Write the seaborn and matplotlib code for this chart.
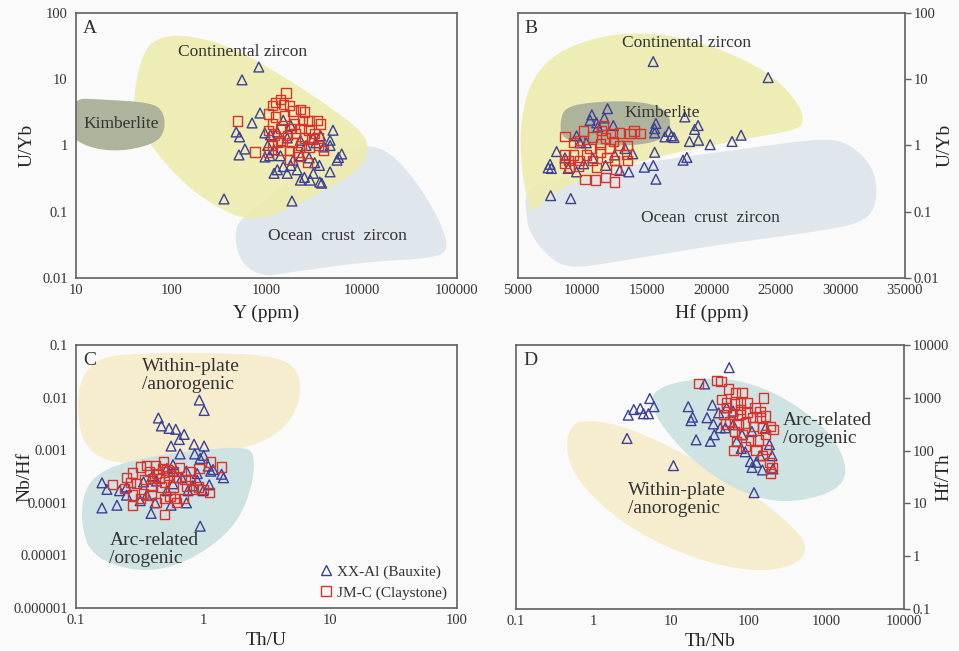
import numpy as np
import pandas as pd
import matplotlib
matplotlib.use("Agg")
import matplotlib.pyplot as plt
from matplotlib.lines import Line2D
import seaborn as sns

# ---- Panel A: Y (ppm) vs U/Yb ----
a_xx_y = [830, 553, 358, 1850, 480, 520, 514, 594, 705, 855, 965, 4990, 6160, 5500, 5700, 4650,
          4650, 3630, 4650, 3100, 2880, 2270, 2100, 1650, 1300, 1500, 1200, 1800, 1900, 1400, 1200,
          2300, 2800, 3200, 3600, 4000, 3300, 2600, 2270, 1650, 1300, 1100, 960, 1500, 1800, 3100,
          3700, 1030, 1080, 3800, 2500]
a_xx_uyb = [15.3, 9.8, 0.156, 0.145, 1.6, 1.35, 0.72, 0.885, 2.19, 3.09, 0.67, 1.7, 0.745, 0.6, 0.66, 1.2,
            1.0, 0.28, 0.4, 0.38, 0.3, 0.3, 0.43, 0.38, 0.43, 0.48, 0.38, 0.5, 0.6, 0.7, 0.86,
            0.7, 0.65, 0.55, 0.5, 0.95, 1.1, 1.0, 1.2, 1.3, 1.6, 1.45, 1.55, 2.4, 2.0, 1.3,
            1.4, 1.0, 0.7, 0.27, 0.33]
a_jm_y = [1600, 500, 760, 1050, 1400, 1250, 1150, 1500, 1750, 2270, 2500, 1900, 1050, 1250, 1550,
          2400, 2800, 3400, 3700, 1950, 1150, 1050, 1400, 1800, 2300, 2800, 3200, 1200, 1650, 2000,
          2500, 3000, 1400, 1850, 2300, 2800, 1750, 2100, 3500, 4000, 1300, 2700, 1750, 2150, 1150,
          1400, 3500]
a_jm_uyb = [6.2, 2.35, 0.8, 0.8, 5.0, 4.5, 4.0, 4.2, 4.0, 3.5, 3.2, 3.3, 3.0, 2.7, 2.8,
            2.4, 2.4, 2.4, 2.1, 2.1, 2.1, 1.7, 1.8, 1.8, 1.8, 1.7, 1.5, 1.4, 1.4, 1.5,
            1.3, 1.25, 1.2, 1.1, 1.0, 0.95, 0.85, 0.8, 1.0, 0.85, 1.1, 0.55, 0.62, 0.68, 1.0,
            0.85, 1.3]

# ---- Panel B: Hf (ppm) vs U/Yb ----
b_xx_hf = [15490, 24400, 11950, 10735, 15700, 15600, 15600, 17940, 18970, 18700, 16700, 16900, 16400,
           17100, 18300, 19000, 19900, 21600, 22300, 18100, 17800, 15600, 15500, 14800, 15700, 13600,
           13900, 8000, 7500, 7350, 7600, 7540, 9100, 9550, 9800, 8650, 8900, 11100, 11200, 12400,
           10600, 11700, 10300, 10800, 11800, 12500, 13300, 12900, 10100, 9550]
b_xx_uyb = [18.5, 10.6, 3.6, 2.9, 2.15, 1.8, 1.55, 2.7, 2.0, 1.75, 1.63, 1.4, 1.35,
            1.32, 1.15, 1.2, 1.03, 1.15, 1.43, 0.66, 0.6, 0.79, 0.5, 0.47, 0.31, 0.4,
            0.75, 0.81, 0.52, 0.46, 0.45, 0.175, 0.158, 1.4, 1.1, 0.65, 0.45, 2.2, 1.9, 2.0,
            2.4, 2.6, 1.1, 0.65, 0.5, 0.72, 0.9, 0.42, 0.53, 0.4]
b_jm_hf = [8650, 9300, 10100, 10800, 11600, 11500, 12300, 12900, 13700, 14500, 14000, 8650, 8650,
           9000, 9800, 9700, 10300, 10200, 11000, 11800, 12500, 11100, 10600, 11400, 12100, 12900,
           13500, 13400, 13500, 12500, 11900, 11400, 9800, 9300, 12400, 11800, 10800, 12600, 8900]
b_jm_uyb = [1.37, 1.1, 1.65, 1.35, 2.0, 1.7, 1.5, 1.55, 1.5, 1.52, 1.65, 0.72, 0.54,
            0.46, 0.6, 0.48, 0.72, 0.31, 0.3, 0.33, 0.28, 0.47, 0.9, 0.8, 0.9, 1.0,
            1.0, 0.73, 0.6, 0.6, 0.66, 1.05, 1.2, 0.72, 1.15, 1.3, 0.6, 0.43, 0.6]

# ---- Panel C: Th/U vs Nb/Hf ----
c_xx_thu = [0.935, 1.02, 0.445, 0.47, 0.54, 0.61, 0.71, 0.65, 0.56, 0.85, 1.02, 0.86, 1.01, 0.66,
            0.95, 0.39, 0.95, 0.16, 0.175, 0.16, 0.21, 0.22, 0.25, 0.25, 1.2, 1.15, 1.1, 1.4,
            1.45, 1.12, 1.0, 0.74, 0.56, 0.42, 0.32, 0.36, 0.52, 0.58, 0.43, 0.68, 0.83, 0.76,
            0.9, 0.58, 0.4, 0.34, 0.74, 0.9, 0.52, 0.58]
c_xx_nbhf = [0.009, 0.0057, 0.0041, 0.0029, 0.0026, 0.0025, 0.0020, 0.0016, 0.0012, 0.0013, 0.0012,
             0.00085, 0.0008, 0.00085, 0.0007, 6.3e-5, 3.6e-5, 0.00024, 0.00018, 8e-5, 9e-5, 0.00017,
             0.0002, 0.00014, 0.00043, 0.0004, 0.0005, 0.00035, 0.0003, 0.00022, 0.00017, 0.0001,
             9e-5, 0.0001, 0.00011, 0.00014, 0.00017, 0.00023, 0.00026, 0.0003, 0.00021, 0.00017,
             0.00027, 0.0004, 0.00033, 0.00025, 0.0004, 0.00036, 0.00045, 0.00053]
c_jm_thu = [0.193, 0.5, 1.4, 1.15, 1.12, 1.0, 0.92, 0.93, 0.8, 0.65, 0.49, 0.42, 0.36, 0.32, 0.28,
            0.25, 0.24, 0.28, 0.32, 0.28, 0.34, 0.39, 0.43, 0.5, 0.55, 0.6, 0.7, 0.62, 0.58, 0.5,
            0.45, 0.4, 0.35, 0.3, 0.39, 0.47, 0.54, 0.62, 0.72, 0.8, 0.74, 0.83, 0.43, 0.38, 0.52,
            0.58, 0.48, 0.27]
c_jm_nbhf = [0.00022, 6e-5, 0.00048, 0.0006, 0.000155, 0.00018, 0.0002, 0.00045, 0.0004, 0.00047,
             0.0006, 0.00052, 0.00052, 0.00048, 0.00037, 0.0003, 0.00019, 9e-5, 0.00012, 0.00014,
             0.00015, 0.00014, 0.0001, 0.00012, 0.00013, 0.00012, 0.00012, 0.0001, 0.0002, 0.00025,
             0.00029, 0.00029, 0.00028, 0.00023, 0.00021, 0.0002, 0.00033, 0.0003, 0.00028, 0.00028,
             0.00021, 0.00018, 0.00036, 0.0004, 0.00042, 0.0004, 0.00045, 0.00024]

# ---- Panel D: Th/Nb vs Hf/Th ----
d_xx_thnb = [56, 27, 5.3, 6.0, 4.0, 3.3, 2.8, 4.4, 5.1, 2.7, 10.7, 117, 16.6, 18.9, 18, 21, 34, 29,
             35, 32, 36, 43, 41, 52, 50, 63, 80, 90, 105, 110, 125, 150, 200, 205, 185, 165, 140,
             70, 82, 110, 63]
d_xx_hfth = [3730, 1830, 970, 680, 630, 600, 470, 500, 500, 170, 52, 16, 680, 430, 370, 160, 730,
             420, 320, 150, 200, 270, 520, 650, 270, 310, 110, 95, 62, 48, 60, 43, 80, 45, 130, 270,
             80, 150, 200, 230, 560]
d_jm_thnb = [22.5, 39, 44, 55, 67, 82, 155, 45, 52, 65, 78, 95, 120, 62, 77, 95, 140, 56, 73, 90,
             115, 150, 165, 65, 82, 105, 132, 205, 190, 90, 124, 150, 185, 200, 190, 70, 50, 63,
             170, 52, 78, 48, 165, 112, 140]
d_jm_hfth = [1890, 2130, 2050, 1470, 1270, 1270, 990, 940, 820, 760, 820, 820, 650, 480, 480, 520,
             420, 360, 310, 335, 290, 270, 200, 230, 200, 160, 160, 250, 290, 120, 100, 80, 60, 48,
             37, 150, 320, 100, 105, 650, 600, 480, 450, 420, 550]

# ---- field boundaries (vertices) ----
a_cont = ([10**v for v in [1.602, 1.707, 1.882, 2.162, 2.652, 3.352, 3.911, 4.087, 4.016, 3.632, 3.142,
                           2.861, 2.582, 2.162, 1.812, 1.637]],
          [10**v for v in [0.788, 1.44, 1.642, 1.668, 1.491, 0.888, 0.335, 0.033, -0.32, -0.672, -1.023,
                           -1.125, -1.023, -0.622, -0.068, 0.385]])
a_kimb = ([10**v for v in [0.95, 1.252, 1.812, 1.924, 1.934, 1.847, 1.532, 1.252, 1.042, 0.95]],
          [10**v for v in [0.712, 0.697, 0.646, 0.486, 0.234, 0.042, -0.078, -0.068, 0.033, 0.158]])
a_ocean = ([10**v for v in [2.652, 2.792, 3.352, 3.877, 4.227, 4.541, 4.822, 4.92, 4.751, 4.052, 3.176,
                            2.966, 2.722]],
           [10**v for v in [-1.275, -1.023, -0.42, -0.013, -0.013, -0.471, -1.125, -1.577, -1.703, -1.754,
                            -1.929, -1.98, -1.779]])
b_cont = ([5930, 5285, 5155, 5930, 8000, 11870, 16260, 20655, 24790, 26855, 27165, 26600, 22720, 14970,
           8510, 6450],
          [10**v for v in [-1.005, -0.399, 0.308, 0.965, 1.42, 1.682, 1.697, 1.47, 1.065, 0.611, 0.359,
                           0.232, 0.106, -0.197, -0.601, -0.955]])
b_kimb = ([8255, 8640, 11355, 14455, 16390, 16935, 16390, 14455, 10580, 8410],
          [10**v for v in [0.333, 0.591, 0.667, 0.667, 0.561, 0.333, 0.106, 0.0, 0.0, 0.106]])
b_ocean = ([5672, 5542, 7222, 14970, 22720, 28405, 30472, 32537, 32925, 32022, 27888, 20138, 12388,
            8772, 6963, 5800],
           [10**v for v in [-1.056, -0.702, -0.525, -0.247, -0.045, 0.106, 0.056, -0.298, -0.803, -1.157,
                            -1.308, -1.51, -1.763, -1.864, -1.611, -1.258]])
c_within = ([10**v for v in [-0.969, -0.837, -0.549, -0.024, 0.554, 0.764, 0.764, 0.633, 0.396, -0.024,
                             -0.496, -0.811, -0.955, -0.99]],
            [10**v for v in [-1.665, -1.253, -1.158, -1.146, -1.19, -1.475, -2.108, -2.614, -2.93, -3.089,
                             -3.278, -3.184, -2.804, -2.234]])
c_arc = ([10**v for v in [-0.969, -0.89, -0.496, -0.129, 0.239, 0.383, 0.409, 0.344, -0.024, -0.417,
                          -0.732, -0.916]],
         [10**v for v in [-4.259, -5.019, -5.335, -5.146, -4.513, -3.753, -3.12, -2.93, -2.994, -3.12,
                          -3.31, -3.627]])
d_arc = ([10**v for v in [0.773, 1.116, 1.76, 2.403, 3.004, 3.262, 3.219, 2.833, 2.318, 1.803, 1.288,
                          0.858, 0.751]],
         [10**v for v in [3.135, 3.327, 3.391, 3.071, 2.429, 1.788, 1.34, 1.083, 1.019, 1.276, 1.788,
                          2.494, 2.878]])
d_within = ([10**v for v in [-0.3, -0.043, 0.472, 1.202, 1.974, 2.618, 2.768, 2.575, 2.06, 1.33, 0.472,
                             -0.172, -0.365]],
            [10**v for v in [2.494, 2.59, 2.429, 1.917, 1.276, 0.506, 0.122, -0.199, -0.295, -0.071,
                             0.506, 1.34, 1.981]])

BLUE = '#3b3f96'
RED = '#d8322b'
TXT = '#333333'
SERIF = ['Liberation Serif', 'DejaVu Serif']

sns.set_style('white')
plt.rcParams['font.family'] = SERIF


def smooth(xs, ys, logx, logy, n=4):
    # closed Chaikin smoothing of the field outline, done in axis space
    px = np.log10(xs) if logx else np.asarray(xs, float)
    py = np.log10(ys) if logy else np.asarray(ys, float)
    pts = np.column_stack([px, py])
    for _ in range(n):
        nxt = np.roll(pts, -1, axis=0)
        q = 0.75 * pts + 0.25 * nxt
        r = 0.25 * pts + 0.75 * nxt
        pts = np.empty((2 * len(q), 2))
        pts[0::2] = q
        pts[1::2] = r
    sx = 10 ** pts[:, 0] if logx else pts[:, 0]
    sy = 10 ** pts[:, 1] if logy else pts[:, 1]
    return sx, sy


def field(ax, poly, color, logx=True, logy=True, alpha=1.0):
    sx, sy = smooth(poly[0], poly[1], logx, logy)
    ax.fill(sx, sy, color=color, alpha=alpha, lw=0, zorder=1)


def points(ax, x, y, marker, color, size):
    df = pd.DataFrame({'x': x, 'y': y})
    sns.scatterplot(data=df, x='x', y='y', ax=ax, marker=marker, s=size,
                    facecolors='none', edgecolor=color, linewidth=1.0, zorder=3)


def style(ax, right=False, xlab_y=-0.13, ylab_x=-0.13):
    for sp in ax.spines.values():
        sp.set_color('#606060')
        sp.set_linewidth(1.2)
    ax.set_facecolor('#fafafa')
    ax.tick_params(axis='both', which='major', direction='out', length=4, width=1,
                   color='#606060', labelsize=10.5, labelcolor=TXT, pad=2)
    ax.tick_params(axis='both', which='minor', length=0)
    ax.tick_params(axis='x', length=0, pad=4)
    if right:
        ax.yaxis.tick_right()
        ax.yaxis.set_label_position('right')
    ax.xaxis.label.set_va('center')
    ax.yaxis.label.set_va('center')
    ax.xaxis.set_label_coords(0.5, xlab_y)
    ax.yaxis.set_label_coords(ylab_x, 0.5)


def plain(vals):
    return [('%.6f' % v).rstrip('0').rstrip('.') for v in vals]


def letter(ax, s):
    ax.text(0.018, 0.94, s, transform=ax.transAxes, fontsize=14, color=TXT, va='center')


fig = plt.figure(figsize=(9.59, 6.51), dpi=100)
fig.patch.set_facecolor('#fafafa')

axA = fig.add_axes([0.0793, 0.573, 0.3972, 0.407])
axB = fig.add_axes([0.540, 0.573, 0.4036, 0.407])
axC = fig.add_axes([0.0793, 0.066, 0.3972, 0.404])
axD = fig.add_axes([0.538, 0.0645, 0.4046, 0.4055])

# ---- A ----
axA.set_xscale('log')
axA.set_yscale('log')
field(axA, a_ocean, '#dfe7ec')
field(axA, a_cont, '#eeecb0', alpha=0.92)
field(axA, a_kimb, '#aeb39b')
points(axA, a_xx_y, a_xx_uyb, '^', BLUE, 50)
points(axA, a_jm_y, a_jm_uyb, 's', RED, 45)
axA.set_xlim(10, 100000)
axA.set_ylim(0.01, 100)
xt = [10, 100, 1000, 10000, 100000]
yt = [0.01, 0.1, 1, 10, 100]
axA.set_xticks(xt, plain(xt))
axA.set_yticks(yt, plain(yt))
axA.text(566, 26, 'Continental zircon', ha='center', va='center', fontsize=12.5, color=TXT, zorder=4)
axA.text(30, 2.1, 'Kimberlite', ha='center', va='center', fontsize=12.5, color=TXT, zorder=4)
axA.text(5500, 0.043, 'Ocean  crust  zircon', ha='center', va='center', fontsize=12.5, color=TXT, zorder=4)
letter(axA, 'A')
axA.set_xlabel('Y (ppm)', fontsize=14)
axA.set_ylabel('U/Yb', fontsize=14)
style(axA, xlab_y=-0.132, ylab_x=-0.128)

# ---- B ----
axB.set_yscale('log')
field(axB, b_ocean, '#dfe7ec', logx=False)
field(axB, b_cont, '#eeecb0', logx=False, alpha=0.92)
field(axB, b_kimb, '#aeb39b', logx=False)
points(axB, b_xx_hf, b_xx_uyb, '^', BLUE, 50)
points(axB, b_jm_hf, b_jm_uyb, 's', RED, 45)
axB.set_xlim(5000, 35000)
axB.set_ylim(0.01, 100)
xt = [5000, 10000, 15000, 20000, 25000, 30000, 35000]
axB.set_xticks(xt, [str(v) for v in xt])
axB.set_yticks(yt, plain(yt))
axB.text(18070, 35, 'Continental zircon', ha='center', va='center', fontsize=12.5, color=TXT, zorder=4)
axB.text(16210, 3.05, 'Kimberlite', ha='center', va='center', fontsize=12.5, color=TXT, zorder=4)
axB.text(19960, 0.08, 'Ocean  crust  zircon', ha='center', va='center', fontsize=12.5, color=TXT, zorder=4)
letter(axB, 'B')
axB.set_xlabel('Hf (ppm)', fontsize=14)
axB.set_ylabel('U/Yb', fontsize=14)
style(axB, right=True, xlab_y=-0.132, ylab_x=1.103)

# ---- C ----
axC.set_xscale('log')
axC.set_yscale('log')
field(axC, c_within, '#f6ecce')
field(axC, c_arc, '#cde2e1')
points(axC, c_xx_thu, c_xx_nbhf, '^', BLUE, 50)
points(axC, c_jm_thu, c_jm_nbhf, 's', RED, 45)
axC.set_xlim(0.1, 100)
axC.set_ylim(1e-6, 0.1)
xt = [0.1, 1, 10, 100]
yt = [1e-6, 1e-5, 1e-4, 1e-3, 1e-2, 0.1]
axC.set_xticks(xt, plain(xt))
axC.set_yticks(yt, plain(yt))
axC.text(0.33, 0.026, 'Within-plate\n/anorogenic', ha='left', va='center', fontsize=14,
         color=TXT, linespacing=1.05, zorder=4)
axC.text(0.183, 1.3e-5, 'Arc-related\n/orogenic', ha='left', va='center', fontsize=14,
         color=TXT, linespacing=1.05, zorder=4)
letter(axC, 'C')
axC.set_xlabel('Th/U', fontsize=14)
axC.set_ylabel('Nb/Hf', fontsize=14)
handles = [Line2D([], [], ls='none', marker='^', mfc='none', mec=BLUE, ms=7.5, mew=1),
           Line2D([], [], ls='none', marker='s', mfc='none', mec=RED, ms=6.5, mew=1)]
axC.legend(handles, ['XX-Al (Bauxite)', 'JM-C (Claystone)'], loc='lower right',
           bbox_to_anchor=(1.01, -0.02), frameon=False, fontsize=11, handletextpad=0.2,
           handlelength=1.0, labelspacing=0.45, labelcolor=TXT)
style(axC, xlab_y=-0.122, ylab_x=-0.134)

# ---- D ----
axD.set_xscale('log')
axD.set_yscale('log')
field(axD, d_within, '#f6ecce')
field(axD, d_arc, '#cde2e1', alpha=0.95)
points(axD, d_xx_thnb, d_xx_hfth, '^', BLUE, 50)
points(axD, d_jm_thnb, d_jm_hfth, 's', RED, 45)
axD.set_xlim(0.1, 10000)
axD.set_ylim(0.1, 10000)
xt = [0.1, 1, 10, 100, 1000, 10000]
axD.set_xticks(xt, plain(xt))
axD.set_yticks(xt, plain(xt))
axD.text(274, 250, 'Arc-related\n/orogenic', ha='left', va='center', fontsize=14,
         color=TXT, linespacing=1.05, zorder=4)
axD.text(2.74, 11.7, 'Within-plate\n/anorogenic', ha='left', va='center', fontsize=14,
         color=TXT, linespacing=1.05, zorder=4)
letter(axD, 'D')
axD.set_xlabel('Th/Nb', fontsize=14)
axD.set_ylabel('Hf/Th', fontsize=14)
style(axD, right=True, xlab_y=-0.122, ylab_x=1.103)

fig.savefig('out.png', dpi=100, facecolor=fig.get_facecolor())
